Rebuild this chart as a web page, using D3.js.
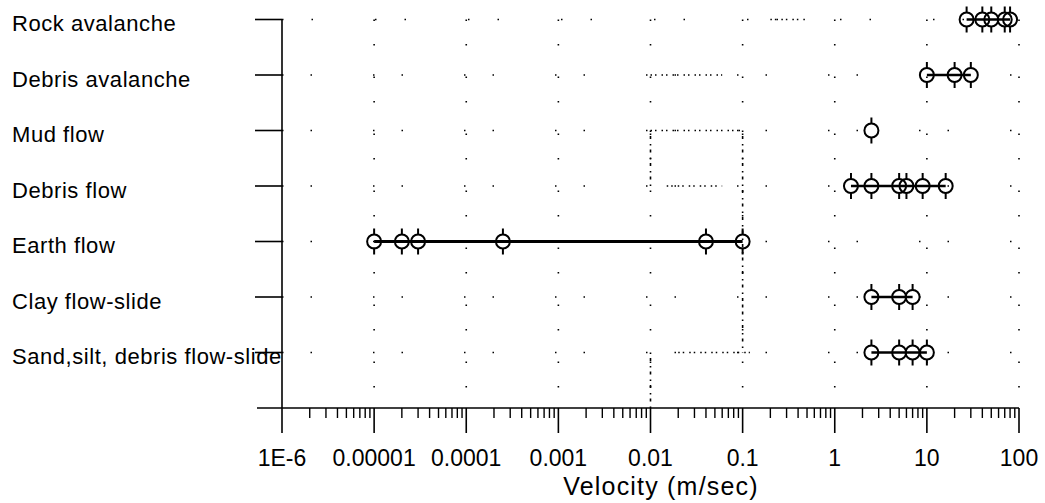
<!DOCTYPE html>
<html>
<head>
<meta charset="utf-8">
<script src="https://cdn.jsdelivr.net/npm/d3@7"></script>
<style>
  body { margin: 0; background: #fff; }
  text { font-family: "Liberation Sans", Arial, sans-serif; fill: #000; }
</style>
</head>
<body>
<svg id="chart" width="1045" height="503"></svg>
<script>
// Landslide types (top to bottom) and observed velocities in m/s
const categories = [
  "Rock avalanche",
  "Debris avalanche",
  "Mud flow",
  "Debris flow",
  "Earth flow",
  "Clay flow-slide",
  "Sand,silt, debris flow-slide"
];
const rockAvalanche     = [27, 40, 50, 70, 80];
const debrisAvalanche   = [10, 20, 30];
const mudFlow           = [2.5];
const debrisFlow        = [1.5, 2.5, 5, 6, 9, 16];
const earthFlow         = [1e-5, 2e-5, 3e-5, 2.5e-4, 0.04, 0.1];
const clayFlowSlide     = [2.5, 5, 7];
const sandSiltFlowSlide = [2.5, 5, 7, 10];

const seriesValues = [rockAvalanche, debrisAvalanche, mudFlow, debrisFlow,
                      earthFlow, clayFlowSlide, sandSiltFlowSlide];

const tickValues = [1e-6, 1e-5, 1e-4, 1e-3, 1e-2, 1e-1, 1, 10, 100];
const tickLabels = ["1E-6", "0.00001", "0.0001", "0.001", "0.01", "0.1", "1", "10", "100"];
const axisTitle = "Velocity (m/sec)";

const svg = d3.select("#chart");

const x = d3.scaleLog().domain([1e-6, 100]).range([282, 1019]);
// one extra slot at the bottom sits on the horizontal axis
const y = d3.scalePoint().domain([...categories, ""]).range([19.5, 408]);
const yAxisPos = y("");

// ---- dotted grid (sparse, as printed) ----
const grid = svg.append("g").attr("stroke", "#000").attr("stroke-width", 1.6);
grid.selectAll("line.v").data(tickValues.slice(1)).join("line")
  .attr("class", "v")
  .attr("x1", d => x(d)).attr("x2", d => x(d))
  .attr("y1", y(categories[0])).attr("y2", yAxisPos)
  .attr("stroke-dasharray", "1.5,23,1.5,31");
grid.selectAll("line.h").data(categories.slice(1)).join("line")
  .attr("class", "h")
  .attr("x1", x(1e-6)).attr("x2", x(100))
  .attr("y1", d => y(d)).attr("y2", d => y(d))
  .attr("stroke-dasharray", "1.5,27,1.5,61");
grid.append("line")
  .attr("x1", x(1e-6)).attr("x2", x(100))
  .attr("y1", y(categories[0])).attr("y2", y(categories[0]))
  .attr("stroke-dasharray", "1.5,28,1.5,62");

// denser dotted runs in the 0.01 – 0.1 band
const denseRuns = [
  [0.01, 0.06, categories[1]], [0.01, 0.1, categories[2]],
  [0.015, 0.06, categories[3]], [0.02, 0.12, categories[6]],
  [0.2, 0.5, categories[0]]
];
grid.selectAll("line.dh").data(denseRuns).join("line")
  .attr("x1", d => x(d[0])).attr("x2", d => x(d[1]))
  .attr("y1", d => y(d[2])).attr("y2", d => y(d[2]))
  .attr("stroke-dasharray", "1.5,3,1.5,5");
const denseCols = [
  [0.1, categories[2], categories[6]], [0.01, categories[2], categories[3]],
  [0.01, categories[6], ""]
];
grid.selectAll("line.dv").data(denseCols).join("line")
  .attr("x1", d => x(d[0])).attr("x2", d => x(d[0]))
  .attr("y1", d => y(d[1])).attr("y2", d => y(d[2]))
  .attr("stroke-dasharray", "1.5,4,3,5");

// ---- x axis ----
const xAxisG = svg.append("g").attr("stroke", "#000");
xAxisG.append("line")
  .attr("x1", 257).attr("x2", x(100))
  .attr("y1", yAxisPos).attr("y2", yAxisPos)
  .attr("stroke-width", 1.6);

const minorTicks = [];
for (let e = -6; e < 2; e++) {
  for (let m = 2; m <= 9; m++) minorTicks.push(m * Math.pow(10, e));
}
xAxisG.selectAll("line.minor").data(minorTicks).join("line")
  .attr("x1", d => x(d)).attr("x2", d => x(d))
  .attr("y1", yAxisPos).attr("y2", yAxisPos + 10)
  .attr("stroke-width", 1.4);
xAxisG.selectAll("line.major").data(tickValues).join("line")
  .attr("x1", d => x(d)).attr("x2", d => x(d))
  .attr("y1", yAxisPos).attr("y2", yAxisPos + 25)
  .attr("stroke-width", 1.6);

svg.append("g").selectAll("text").data(tickValues).join("text")
  .attr("x", d => x(d))
  .attr("y", yAxisPos + 58)
  .attr("text-anchor", "middle")
  .attr("font-size", 23)
  .text((d, i) => tickLabels[i]);

svg.append("text")
  .attr("x", 661).attr("y", 495)
  .attr("text-anchor", "middle")
  .attr("font-size", 25)
  .attr("letter-spacing", 1.2)
  .text(axisTitle);

// ---- y axis ----
const yAxisG = svg.append("g").attr("stroke", "#000").attr("stroke-width", 1.6);
yAxisG.append("line")
  .attr("x1", x(1e-6)).attr("x2", x(1e-6))
  .attr("y1", y(categories[0])).attr("y2", yAxisPos);
yAxisG.selectAll("line.tick").data(categories).join("line")
  .attr("x1", 255).attr("x2", x(1e-6))
  .attr("y1", d => y(d)).attr("y2", d => y(d));

svg.append("g").selectAll("text").data(categories).join("text")
  .attr("x", 12)
  .attr("y", d => y(d) + 11.5)
  .attr("font-size", 22)
  .attr("letter-spacing", 0.55)
  .text(d => d);

// ---- velocity ranges and observations ----
const rows = svg.append("g");
categories.forEach((cat, i) => {
  const vals = seriesValues[i];
  const cy = y(cat);
  const g = rows.append("g");
  const ext = d3.extent(vals);
  if (ext[0] !== ext[1]) {
    g.append("line")
      .attr("x1", x(ext[0])).attr("x2", x(ext[1]))
      .attr("y1", cy).attr("y2", cy)
      .attr("stroke", "#000")
      .attr("stroke-width", cat === "Earth flow" ? 3 : 2.5);
  }
  const m = g.selectAll("g.mark").data(vals).join("g")
    .attr("class", "mark")
    .attr("transform", d => `translate(${x(d)},${cy})`);
  m.append("circle")
    .attr("r", 7)
    .attr("fill", "none")
    .attr("stroke", "#000")
    .attr("stroke-width", 2);
  m.append("line")
    .attr("x1", 0).attr("x2", 0).attr("y1", -13).attr("y2", -7)
    .attr("stroke", "#000").attr("stroke-width", 2);
  m.append("line")
    .attr("x1", 0).attr("x2", 0).attr("y1", 7).attr("y2", 13)
    .attr("stroke", "#000").attr("stroke-width", 2);
});
</script>
</body>
</html>
